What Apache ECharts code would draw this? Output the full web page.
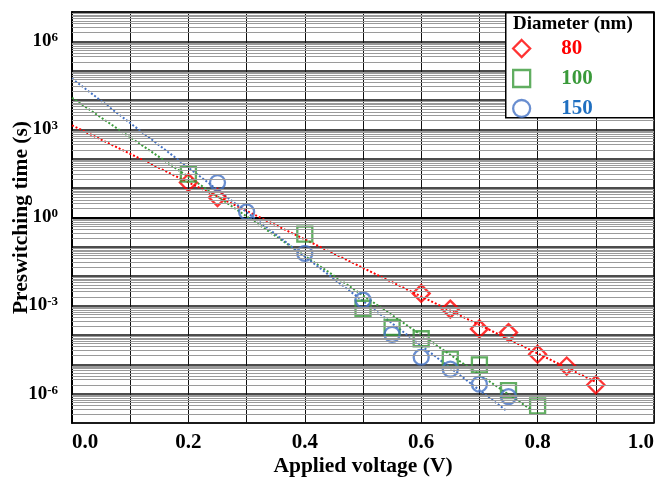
<!DOCTYPE html>
<html>
<head>
<meta charset="utf-8">
<script src="https://cdn.jsdelivr.net/npm/echarts@6/dist/echarts.min.js"></script>
<style>html,body{margin:0;padding:0;background:#fff;}#c{width:661px;height:481px;}</style>
</head>
<body>
<div id="c"></div>
<script>
// Measured data (Applied voltage in V, Preswitching time in s)
const voltage80 = [0.2, 0.25, 0.6, 0.65, 0.7, 0.75, 0.8, 0.85, 0.9];
const time80 = [15.5, 4.8, 2.6e-3, 7.6e-4, 1.6e-4, 1.2e-4, 2.2e-5, 8.7e-6, 2.0e-6];
const voltage100 = [0.2, 0.4, 0.5, 0.55, 0.6, 0.65, 0.7, 0.75, 0.8];
const time100 = [30, 0.27, 8.1e-4, 1.8e-4, 7.4e-5, 1.5e-5, 9.5e-6, 1.26e-6, 3.8e-7];
const voltage150 = [0.25, 0.3, 0.4, 0.5, 0.55, 0.6, 0.65, 0.7, 0.75];
const time150 = [15.5, 1.55, 0.06, 1.55e-3, 1.05e-4, 1.74e-5, 6.8e-6, 2.1e-6, 7.9e-7];
// Fitted (exponential) trend lines: end points
const fitVoltage80 = [0, 0.9];
const fitTime80 = [1380, 2.5e-6];
const fitVoltage100 = [0, 0.79];
const fitTime100 = [1.2e4, 2.75e-7];
const fitVoltage150 = [0, 0.745];
const fitTime150 = [5.4e4, 2.75e-7];
// Legend / axis texts
const legendTitle = 'Diameter (nm)';
const seriesNames = ['80', '100', '150'];
const xTitle = 'Applied voltage (V)';
const yTitle = 'Preswitching time (s)';
const yDecadeMin = -7, yDecadeMax = 7;

const RED = '#ff0000', GREEN = '#3a9a3a', BLUE = '#4472c4';
const SERIF = '"Liberation Serif", "Times New Roman", serif';

function toPts(xs, ys) { return xs.map((x, i) => [x, Math.log10(ys[i])]); }

// minor log grid lines (2..9 within each decade)
const minorLines = [];
for (let n = yDecadeMin; n < yDecadeMax; n++) {
  for (let k = 2; k <= 9; k++) minorLines.push({ yAxis: n + Math.log10(k) });
}

const chart = echarts.init(document.getElementById('c'), null, { renderer: 'canvas' });
const option = {
  animation: false,
  backgroundColor: '#fff',
  grid: { left: 72, right: 7, top: 12, bottom: 58, containLabel: false, outerBoundsMode: 'none', show: true, borderColor: '#000', borderWidth: 1.5, backgroundColor: 'transparent' },
  xAxis: {
    type: 'value', min: 0, max: 1, interval: 0.2,
    name: xTitle, nameLocation: 'middle', nameGap: 32, nameMoveOverlap: false,
    nameTextStyle: { fontFamily: SERIF, fontWeight: 'bold', fontSize: 21.5, color: '#000' },
    axisLine: { show: true, lineStyle: { color: '#000', width: 2 } },
    axisTick: { show: false },
    minorTick: { show: false, splitNumber: 2 },
    minorSplitLine: { show: true, lineStyle: { color: '#111', width: 1 } },
    splitLine: { show: true, lineStyle: { color: '#111', width: 1 } },
    axisLabel: {
      margin: 9, fontFamily: SERIF, fontWeight: 'bold', fontSize: 21, color: '#000',
      formatter: v => v.toFixed(1), alignMinLabel: 'left', alignMaxLabel: 'right'
    }
  },
  yAxis: {
    type: 'value', min: yDecadeMin, max: yDecadeMax, interval: 1,
    name: yTitle, nameLocation: 'middle', nameGap: 40, nameRotate: 90, nameMoveOverlap: false,
    nameTextStyle: { fontFamily: SERIF, fontWeight: 'bold', fontSize: 21.5, color: '#000' },
    axisLine: { show: true, lineStyle: { color: '#000', width: 2 } },
    axisTick: { show: false },
    splitLine: { show: true, lineStyle: { color: '#111', width: 1.6 } },
    axisLabel: {
      margin: 14,
      formatter: v => {
        const n = Math.round(v);
        if (n % 3 !== 0 || n === yDecadeMin || n === yDecadeMax) return '';
        return '{b|10}{s|' + n + '}';
      },
      rich: {
        b: { fontFamily: SERIF, fontWeight: 'bold', fontSize: 19, color: '#000', lineHeight: 20 },
        s: { fontFamily: SERIF, fontWeight: 'bold', fontSize: 13, color: '#000', verticalAlign: 'top', lineHeight: 13 }
      }
    }
  },
  legend: {
    orient: 'vertical', left: 512, top: 38, padding: 0, itemWidth: 17, itemHeight: 17, itemGap: 9, z: 20,
    selectedMode: false,
    textStyle: { fontFamily: SERIF, fontWeight: 'bold', fontSize: 21, padding: [6, 0, 0, 26] },
    data: [
      { name: seriesNames[0], icon: 'diamond', itemStyle: { color: 'transparent', borderColor: RED, borderWidth: 2.3 }, textStyle: { color: RED } },
      { name: seriesNames[1], icon: 'rect', itemStyle: { color: 'transparent', borderColor: GREEN, borderWidth: 2.3 }, textStyle: { color: GREEN } },
      { name: seriesNames[2], icon: 'circle', itemStyle: { color: 'transparent', borderColor: BLUE, borderWidth: 2.3 }, textStyle: { color: '#1f6fc0' } }
    ]
  },
  graphic: [
    { type: 'rect', left: 505, top: 12, z: 15, shape: { width: 148, height: 105 }, style: { fill: '#fff', stroke: '#000', lineWidth: 1.5 } },
    { type: 'text', left: 513, top: 15, z: 21, style: { text: legendTitle, fill: '#000', font: 'bold 19px ' + SERIF } }
  ],
  series: [
    {
      type: 'line', name: 'minor', data: [], silent: true, z: 1,
      markLine: { silent: true, symbol: ['none', 'none'], label: { show: false }, lineStyle: { color: '#9a9a9a', width: 1, type: 'solid' }, emphasis: { disabled: true }, data: minorLines }
    },
    { type: 'line', name: 'fit80', data: toPts(fitVoltage80, fitTime80), showSymbol: false, symbol: 'none', lineStyle: { color: RED, width: 2, type: [2, 2] }, z: 3, silent: true },
    { type: 'line', name: 'fit100', data: toPts(fitVoltage100, fitTime100), showSymbol: false, symbol: 'none', lineStyle: { color: GREEN, width: 2, type: [2, 2] }, z: 3, silent: true },
    { type: 'line', name: 'fit150', data: toPts(fitVoltage150, fitTime150), showSymbol: false, symbol: 'none', lineStyle: { color: BLUE, width: 2, type: [2, 2] }, z: 3, silent: true },
    { type: 'scatter', name: seriesNames[0], data: toPts(voltage80, time80), symbol: 'diamond', symbolSize: 17, itemStyle: { color: 'transparent', borderColor: RED, borderWidth: 2.3 }, z: 4 },
    { type: 'scatter', name: seriesNames[1], data: toPts(voltage100, time100), symbol: 'rect', symbolSize: 15, itemStyle: { color: 'transparent', borderColor: GREEN, borderWidth: 2.3 }, z: 4 },
    { type: 'scatter', name: seriesNames[2], data: toPts(voltage150, time150), symbol: 'circle', symbolSize: 15, itemStyle: { color: 'transparent', borderColor: BLUE, borderWidth: 2.3 }, z: 4 }
  ]
};
chart.setOption(option);
</script>
</body>
</html>
